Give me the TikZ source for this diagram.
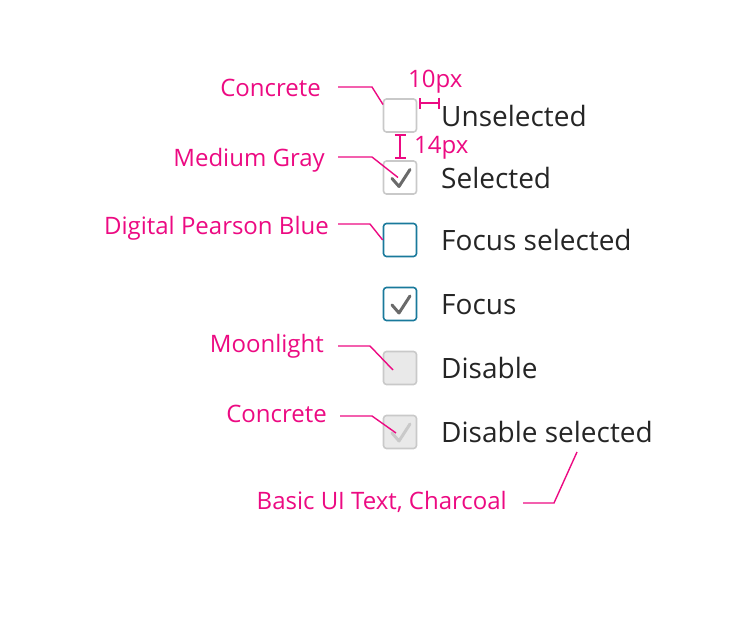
\documentclass[tikz,border=0pt]{standalone}
\usepackage{fontspec}
\setmainfont{Open Sans}
\usetikzlibrary{arrows.meta}
\definecolor{pink}{HTML}{EC0A82}
\definecolor{concrete}{HTML}{C9C9C9}
\definecolor{moonlight}{HTML}{E9E9E9}
\definecolor{medgray}{HTML}{6A6A6A}
\definecolor{pearson}{HTML}{19799B}
\definecolor{charcoal}{HTML}{252525}
\tikzset{
  box/.style={draw=concrete, line width=1.6pt, rounded corners=3pt, minimum size=33pt, inner sep=0pt},
  focusbox/.style={box, draw=pearson},
  offbox/.style={box, fill=moonlight},
  state/.style={anchor=base west, inner sep=0pt, text=charcoal, font=\fontsize{28}{32}\selectfont},
  note/.style={anchor=base east, inner sep=0pt, text=pink, font=\fontsize{24}{28}\selectfont},
  leader/.style={draw=pink, line width=1.4pt},
  dim/.style={draw=pink, line width=1.6pt, {Bar[width=11pt]}-{Bar[width=11pt]}},
  check/.style={line width=3pt, line cap=round, line join=round},
}
\begin{document}
\begin{tikzpicture}[x=1pt,y=-1pt]
    \useasboundingbox (0,0) rectangle (740,624);
    % boxes
    \node[box] (unsel) at (400,115.5) {};
    \node[box] (sel) at (400,177.5) {};
    \node[focusbox] (focsel) at (400,240) {};
    \node[focusbox] (foc) at (400,304) {};
    \node[offbox] (dis) at (400,368) {};
    \node[offbox] (dissel) at (400,432) {};
    \foreach \b/\c in {sel/medgray, foc/medgray, dissel/concrete}
        \draw[check,\c] ([shift={(-8,1)}]\b.center) -- ++(7,8) -- ++(11,-17);
    % states
    \node[state] (tunsel) at (441,126) {Unselected};
    \node[state] (tsel) at (441,188) {Selected};
    \node[state] (tfocsel) at (441,250) {Focus selected};
    \node[state] (tfoc) at (441,314) {Focus};
    \node[state] (tdis) at (441,378) {Disable};
    \node[state] (tdissel) at (441,442) {Disable selected};
    % spacing
    \coordinate (d10a) at (419,103);
    \coordinate (d10b) at (440,103);
    \draw[dim] (d10a) -- (d10b);
    \node[note, anchor=base west] (n10) at (408,87) {10px};
    \coordinate (d14a) at (400,134);
    \coordinate (d14b) at (400,159);
    \draw[dim] (d14a) -- (d14b);
    \node[note, anchor=base west] (n14) at (414,153) {14px};
    % colour notes
    \node[note] (lconc) at (321,96) {Concrete};
    \node[note] (lgray) at (325,166) {Medium Gray};
    \node[note] (lblue) at (329,234) {Digital Pearson Blue};
    \node[note] (lmoon) at (324,352) {Moonlight};
    \node[note] (lconcb) at (327,422) {Concrete};
    \node[note] (ltext) at (507,509) {Basic UI Text, Charcoal};
    \draw[leader] (338,87) -- (372,87) -- ([shift={(-17,-11)}]unsel.center);
    \draw[leader] (338,157) -- (372,157) -- ([shift={(-2,0)}]sel.center);
    \draw[leader] (338,224) -- (370,224) -- (focsel.west);
    \draw[leader] (338,346) -- (370,346) -- ([shift={(-7,2)}]dis.center);
    \draw[leader] (340,416) -- (372,416) -- ([shift={(-4,1)}]dissel.center);
    \draw[leader] (523,503) -- (554,503) -- ([shift={(136,10)}]tdissel.base west);
\end{tikzpicture}
\end{document}
